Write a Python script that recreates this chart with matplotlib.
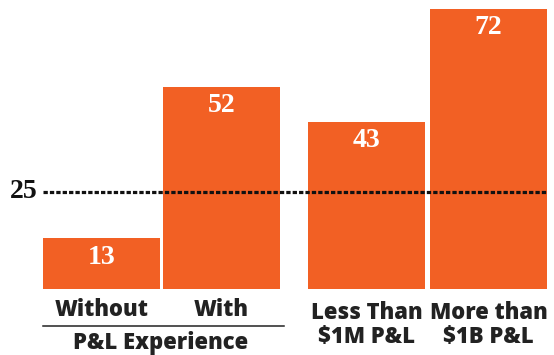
import matplotlib.pyplot as plt
import numpy as np

# values shown on the bars
values = [13, 52, 43, 72]
labels = ["Without", "With", "Less Than\n$1M P&L", "More than\n$1B P&L"]
group_label = "P&L Experience"
benchmark = 25

positions = np.array([0, 1, 2.208, 3.225])
width = 0.975
orange = "#F26024"
ink = "#222222"

fig = plt.figure(figsize=(5.54, 3.55), dpi=100)
ax = fig.add_axes([0, 66 / 355, 1, 289 / 355])
ax.set_xlim(-101.5 / 120, (554 - 101.5) / 120)
ax.set_ylim(0, 289 / 3.889)
ax.axis("off")

ax.bar(positions, values, width=width, color=orange, zorder=2)

# value labels inside the bars
for x, v in zip(positions, values):
    ax.annotate(str(v), xy=(x, v), xytext=(0, -19), textcoords="offset pixels",
                ha="center", va="center", color="white", fontsize=20,
                fontweight="bold", family="Liberation Serif", zorder=4)

# dotted benchmark line
left = positions[0] - width / 2
right = positions[-1] + width / 2
ax.plot([left, right], [benchmark, benchmark], color="#111111", lw=2.3,
        dashes=(1.35, 0.65), zorder=3, clip_on=False)
ax.annotate(str(benchmark), xy=(left, benchmark), xytext=(-5, 0),
            textcoords="offset pixels", ha="right", va="center", color="#111111",
            fontsize=20, fontweight="bold", family="Liberation Serif")

# category labels under the bars
for x, lab in zip(positions, labels):
    nlines = lab.count("\n") + 1
    off = -21 if nlines == 1 else -36
    ax.annotate(lab, xy=(x, 0), xytext=(0, off), textcoords="offset pixels",
                ha="center", va="center", color=ink, fontsize=15.8,
                fontweight=800, family="Open Sans", linespacing=1.0,
                annotation_clip=False)

# group bracket for the first two bars
y_line = -37 / 3.889
ax.plot([left, positions[1] + width / 2 + 0.033], [y_line, y_line],
        color=ink, lw=1.1, clip_on=False)
ax.annotate(group_label, xy=((positions[0] + positions[1]) / 2 - 0.01, 0),
            xytext=(0, -54), textcoords="offset pixels", ha="center", va="center",
            color=ink, fontsize=15.8, fontweight=800, family="Open Sans",
            annotation_clip=False)

fig.savefig("out.png", dpi=100)
